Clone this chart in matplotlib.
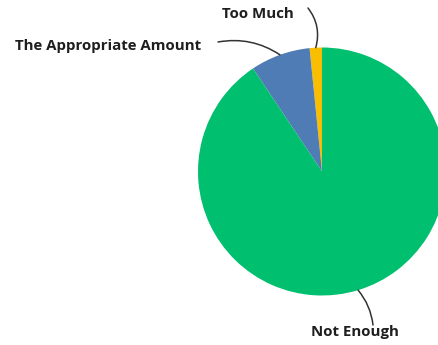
import numpy as np
import matplotlib
matplotlib.use("Agg")
import matplotlib.pyplot as plt

labels = ["Too Much", "The Appropriate Amount", "Not Enough"]
values = [1.6, 7.8, 90.6]
colors = ["#F9BE00", "#507CB6", "#00BF6F"]

# label text positions (data coords = pixels, y from bottom)
text_pos = [(258, 331), (108, 299), (355, 13)]
rads = [-0.25, -0.2, 0.15]

fig = plt.figure(figsize=(4.39, 3.45), dpi=100)
ax = fig.add_axes([0, 0, 1, 1])

cx, cy, r = 322, 173.5, 124
wedges, _ = ax.pie(values, colors=colors, startangle=90, counterclock=True,
                   center=(cx, cy), radius=r, frame=True,
                   wedgeprops=dict(linewidth=0))
ax.set_xlim(0, 439)
ax.set_ylim(0, 345)
ax.axis("off")

font = dict(family=["Open Sans", "DejaVu Sans"], weight="bold", size=10.8, color="#1e1e1e")

# leader line start points (near text)
starts = [(308, 337), (218, 303), (373, 20)]

for w, lab, tp, st, rad in zip(wedges, labels, text_pos, starts, rads):
    ang = np.deg2rad((w.theta1 + w.theta2) / 2)
    px = cx + r * np.cos(ang)
    py = cy + r * np.sin(ang)
    ax.text(tp[0], tp[1], lab, ha="center", va="center", **font)
    ax.annotate("", xy=(px, py), xytext=st,
                arrowprops=dict(arrowstyle="-", color="#333333", lw=1.1,
                                shrinkA=0, shrinkB=0,
                                connectionstyle="arc3,rad=%s" % rad))

fig.savefig("out.png", dpi=100)
